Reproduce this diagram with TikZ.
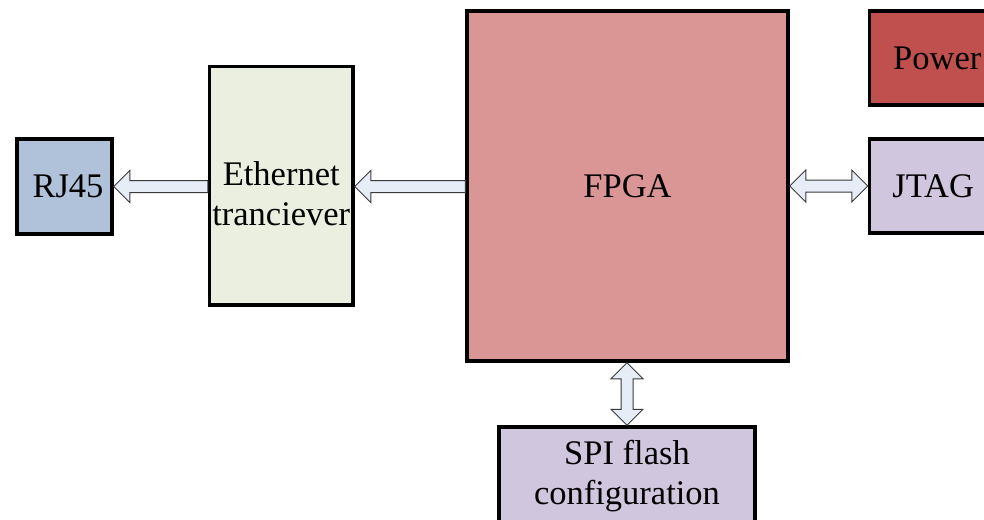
\documentclass[tikz,border=0pt]{standalone}
\usepackage{fontspec}
\setmainfont{Liberation Serif}
\usetikzlibrary{calc}
\definecolor{rjfill}{HTML}{B0C2DA}
\definecolor{ethfill}{HTML}{EBEFDF}
\definecolor{fpgafill}{HTML}{D99694}
\definecolor{pwrfill}{HTML}{C0504D}
\definecolor{lavfill}{HTML}{D0C7DF}
\definecolor{arrowfill}{HTML}{E6EDF7}
\definecolor{arrowline}{HTML}{3A3A3A}
\tikzset{
  block/.style={draw=black, line width=3.5pt, rectangle, inner sep=0pt},
  caption/.style={inner sep=0pt, align=center, font=\fontsize{34.5}{40}\selectfont},
  barrow/.style={draw=arrowline, fill=arrowfill, line width=1pt, line join=miter}
}
\begin{document}
\begin{tikzpicture}[x=1pt,y=-1pt]
\useasboundingbox (0,0) rectangle (984,519);
\clip (0,0) rectangle (984,519);
\fill[white] (0,0) rectangle (984,519);

% functional blocks
\node[block, fill=rjfill, minimum width=95pt, minimum height=95pt] (rj) at (64.5,186.5) {};
\node[block, fill=ethfill, minimum width=143.5pt, minimum height=238.5pt] (eth) at (281.25,185.75) {};
\node[block, fill=fpgafill, minimum width=321pt, minimum height=350pt] (fpga) at (627.5,186) {};
\node[block, fill=pwrfill, minimum width=135.5pt, minimum height=94pt] (pwr) at (937.25,58) {};
\node[block, fill=lavfill, minimum width=135.5pt, minimum height=94pt] (jtag) at (937.25,186) {};
\node[block, fill=lavfill, minimum width=256pt, minimum height=95pt] (spi) at (627,474.5) {};

% block captions
\node[caption] (rjlbl) at ($(rj.center)+(3.5,0)$) {RJ45};
\node[caption] (ethlbl) at ($(eth.center)+(0,7.5)$) {Ethernet\\tranciever};
\node[caption] (fpgalbl) at (fpga.center) {FPGA};
\node[caption] (pwrlbl) at (pwr.center) {Power};
\node[caption] (jtaglbl) at ($(jtag.center)+(-4,0)$) {JTAG};
\node[caption] (spilbl) at ($(spi.center)+(0,2)$) {SPI flash\\configuration};

% Ethernet transceiver -> RJ45
\draw[barrow] (rj.east) -- ++(16,-16) -- ++(0,10)
  -- ($(eth.west |- rj.east)+(0,-6)$) -- ++(0,12)
  -- ($(rj.east)+(16,6)$) -- ++(0,10) -- cycle;

% FPGA -> Ethernet transceiver
\draw[barrow] (eth.east |- rj.east) -- ++(16,-16) -- ++(0,10)
  -- ($(fpga.west |- rj.east)+(0,-6)$) -- ++(0,12)
  -- ($(eth.east |- rj.east)+(16,6)$) -- ++(0,10) -- cycle;

% FPGA <-> JTAG
\draw[barrow] (fpga.east |- jtag.west) -- ++(16,-16) -- ++(0,10)
  -- ($(jtag.west)+(-16,-6)$) -- ++(0,-10) -- (jtag.west)
  -- ++(-16,16) -- ++(0,-10)
  -- ($(fpga.east |- jtag.west)+(16,6)$) -- ++(0,10) -- cycle;

% FPGA <-> SPI flash
\draw[barrow] (spi.north |- fpga.south) -- ++(16,16) -- ++(-10,0)
  -- ($(spi.north)+(6,-16)$) -- ++(10,0) -- (spi.north)
  -- ++(-16,-16) -- ++(10,0)
  -- ($(spi.north |- fpga.south)+(-6,16)$) -- ++(-10,0) -- cycle;
\end{tikzpicture}
\end{document}
